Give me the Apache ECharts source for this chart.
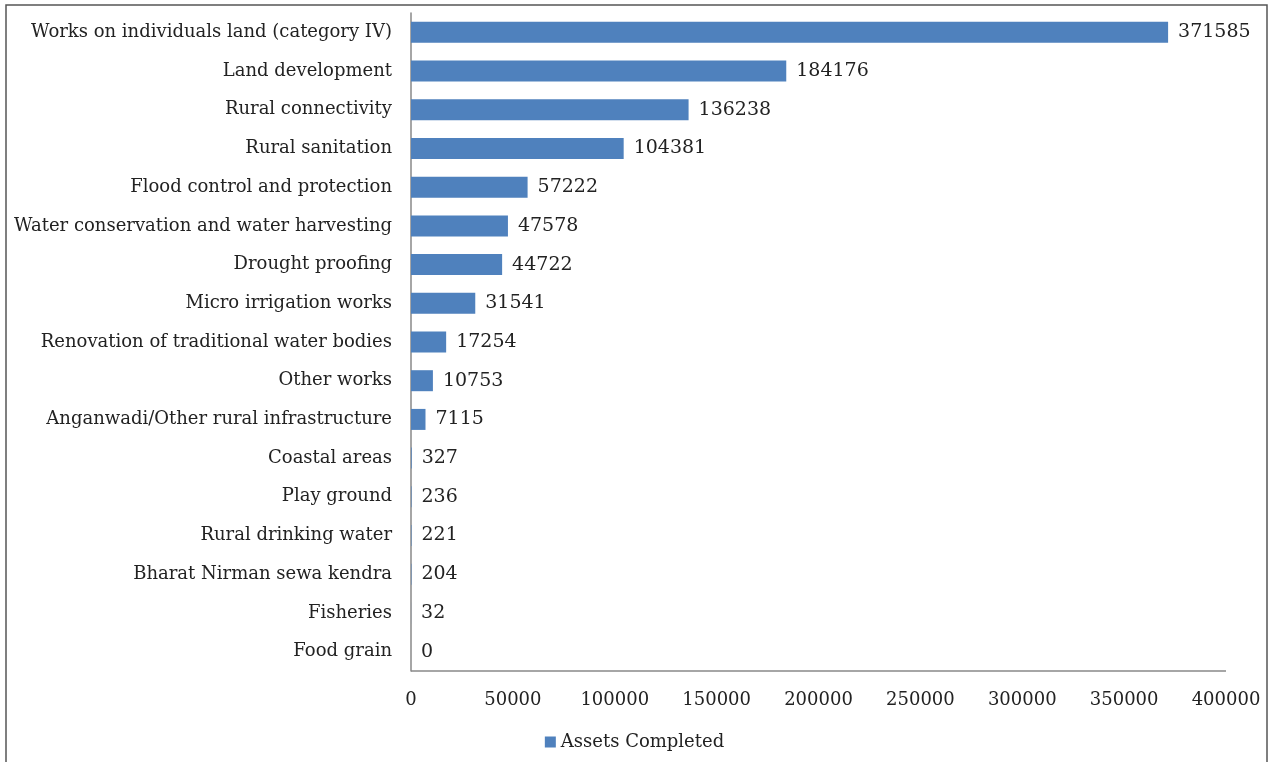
<!DOCTYPE html>
<html><head><meta charset="utf-8">
<script src="https://cdn.jsdelivr.net/npm/echarts@6/dist/echarts.min.js"></script>
<style>html,body{margin:0;padding:0;background:#fff}#c{width:1269px;height:762px}</style>
</head><body><div id="c"></div>
<script>
const categories = ["Works on individuals land (category IV)","Land development","Rural connectivity","Rural sanitation","Flood control and protection","Water conservation and water harvesting","Drought proofing","Micro irrigation works","Renovation of traditional water bodies","Other works","Anganwadi/Other rural infrastructure","Coastal areas","Play ground","Rural drinking water","Bharat Nirman sewa kendra","Fisheries","Food grain"];
const values = [371585,184176,136238,104381,57222,47578,44722,31541,17254,10753,7115,327,236,221,204,32,0];
const seriesName = "Assets Completed";
const FONT = "DejaVu Serif";
const chart = echarts.init(document.getElementById('c'));
chart.setOption({
  animation:false,
  graphic:[{type:'rect',shape:{x:6,y:5,width:1261,height:800},style:{fill:'none',stroke:'#555',lineWidth:1.5},silent:true}],
  grid:{left:411,right:43,top:13,bottom:91,containLabel:false},
  legend:{bottom:6,left:'center',itemWidth:11,itemHeight:11,itemGap:4,icon:'rect',
    textStyle:{fontFamily:FONT,fontSize:18,color:'#222'},data:[seriesName]},
  xAxis:{type:'value',min:0,max:400000,interval:50000,
    axisLine:{show:false},axisTick:{show:false},splitLine:{show:false},
    axisLabel:{fontFamily:FONT,fontSize:18,color:'#222',margin:20,formatter:v=>String(v)}},
  yAxis:{type:'category',data:categories,inverse:true,
    axisLine:{show:true,lineStyle:{color:'#888',width:1.5}},axisTick:{show:false},
    axisLabel:{fontFamily:FONT,fontSize:18,color:'#222',margin:19}},
  series:[{name:seriesName,type:'bar',data:values,barWidth:21,
    itemStyle:{color:'#4F81BD'},
    label:{show:true,position:'right',distance:10,fontFamily:FONT,fontSize:19,color:'#222'},
    markLine:{silent:true,symbol:'none',label:{show:false},lineStyle:{color:'#888',width:1.5,type:'solid'},
      data:[[{coord:[0,categories[categories.length-1]],y:'671'},{x:'1226',y:'671'}]]}
  }]
});
</script></body></html>
